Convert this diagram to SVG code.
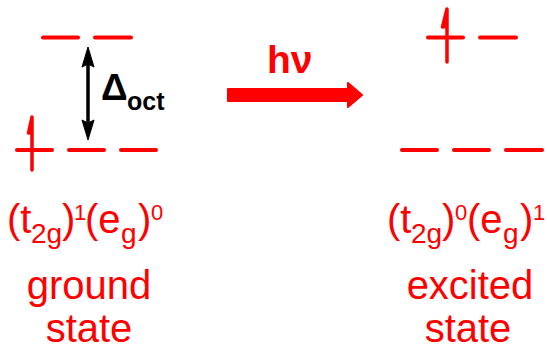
<svg xmlns="http://www.w3.org/2000/svg" width="547" height="346" viewBox="0 0 547 346">
<style>
.lvl{stroke:#ff0000;stroke-width:4;stroke-linecap:round;fill:none}
.el{stroke:#ff0000;stroke-width:3.5;stroke-linecap:round;stroke-linejoin:round;fill:#ff0000}
.t{font-family:"Liberation Sans",Arial,sans-serif;fill:#ff0000}
.b{font-family:"Liberation Sans",Arial,sans-serif;font-weight:bold}
</style>
<rect width="547" height="346" fill="#ffffff"/>
<g id="ground-levels">
<line class="lvl" x1="43" y1="37.5" x2="78" y2="37.5"/>
<line class="lvl" x1="95" y1="37.5" x2="131" y2="37.5"/>
<line class="lvl" x1="17" y1="150" x2="52" y2="150"/>
<line class="lvl" x1="69" y1="150" x2="104" y2="150"/>
<line class="lvl" x1="121" y1="150" x2="156" y2="150"/>
<path class="el" d="M32,170 L32,117 M32,117 L28.5,133 L32,132 Z"/>
</g>
<g id="excited-levels">
<line class="lvl" x1="428" y1="37.5" x2="463" y2="37.5"/>
<line class="lvl" x1="480" y1="37.5" x2="516" y2="37.5"/>
<line class="lvl" x1="402" y1="150" x2="437" y2="150"/>
<line class="lvl" x1="454" y1="150" x2="489" y2="150"/>
<line class="lvl" x1="506" y1="150" x2="542" y2="150"/>
<path class="el" d="M447,62 L447,9 M447,9 L442.5,27 L447,26 Z"/>
</g>
<g id="connectors">
<g id="delta-arrow">
<line x1="88" y1="62" x2="88" y2="126" stroke="#000" stroke-width="3.5"/>
<polygon points="88,47 94,67 88,64 82,67" fill="#000" stroke="#000" stroke-width="1" stroke-linejoin="round"/>
<polygon points="88,140 94,120 88,123 82,120" fill="#000" stroke="#000" stroke-width="1" stroke-linejoin="round"/>
</g>
<g id="hv-arrow">
<polygon points="228,89 348,89 348,83 362,95 348,107 348,101 228,101" fill="#ff0000" stroke="#ff0000" stroke-width="2" stroke-linejoin="round"/>
</g>
</g>
<g id="delta-label">
<text class="b" x="101" y="100" font-size="37" fill="#000">Δ</text>
<text class="b" x="127" y="110" font-size="25" fill="#000">oct</text>
</g>
<g id="hv-label">
<text class="b" x="267" y="73" font-size="39" fill="#ff0000">hν</text>
</g>
<g id="ground-text">
<text class="t" font-size="40"><tspan x="7" y="233">(t</tspan><tspan x="31" y="243" font-size="28">2g</tspan><tspan x="62" y="233">)</tspan><tspan x="74" y="220" font-size="22">1</tspan><tspan x="85" y="233">(e</tspan><tspan x="121" y="243" font-size="28">g</tspan><tspan x="138" y="233">)</tspan><tspan x="151" y="220" font-size="22">0</tspan></text>
<text class="t" font-size="40" x="89" y="299" text-anchor="middle">ground</text>
<text class="t" font-size="40" x="89" y="342" text-anchor="middle">state</text>
</g>
<g id="excited-text">
<text class="t" font-size="40"><tspan x="387" y="233">(t</tspan><tspan x="411" y="243" font-size="28">2g</tspan><tspan x="442" y="233">)</tspan><tspan x="455" y="220" font-size="22">0</tspan><tspan x="467" y="233">(e</tspan><tspan x="503" y="243" font-size="28">g</tspan><tspan x="520" y="233">)</tspan><tspan x="533" y="220" font-size="22">1</tspan></text>
<text class="t" font-size="40" x="470" y="299" text-anchor="middle">excited</text>
<text class="t" font-size="40" x="468" y="342" text-anchor="middle">state</text>
</g>
</svg>
